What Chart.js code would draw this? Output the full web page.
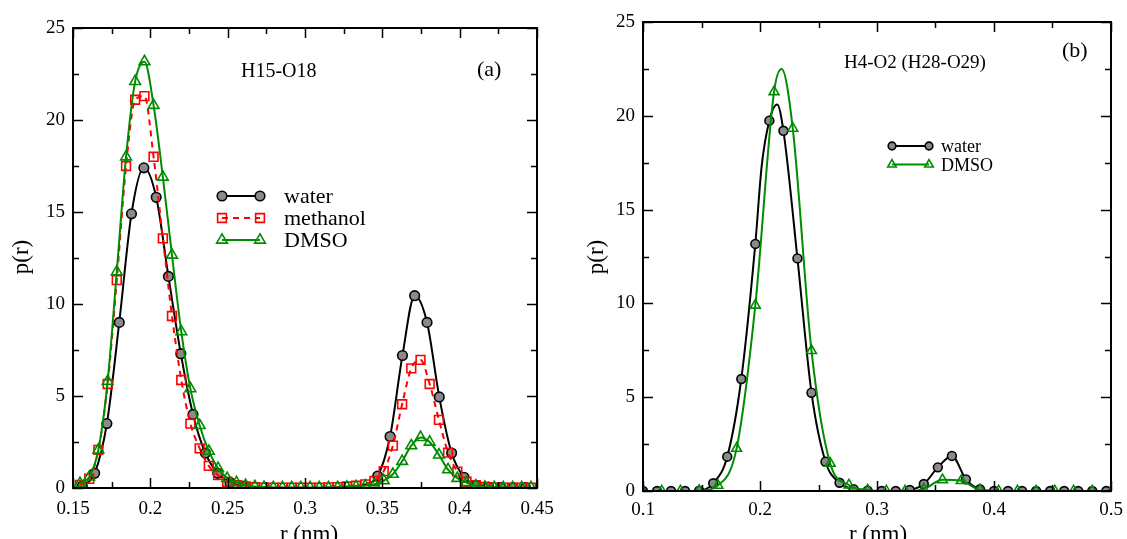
<!DOCTYPE html>
<html><head><meta charset="utf-8">
<script src="https://cdn.jsdelivr.net/npm/chart.js@4.4.0/dist/chart.umd.min.js"></script>
<style>
html,body{margin:0;padding:0;background:#fff;width:1127px;height:539px;overflow:hidden}
#ca{position:absolute;left:0;top:0}
#cb{position:absolute;left:560px;top:0}
</style></head><body>
<canvas id="ca" width="560" height="539"></canvas>
<canvas id="cb" width="567" height="539"></canvas>
<script>
// ---------- Panel (a): H15-O18 ----------
const waterA_r = [0.1560,0.1640,0.1719,0.1799,0.1878,0.1958,0.2038,0.2117,0.2197,0.2276,0.2356,0.2436,0.2515,0.2595,0.3470,0.3550,0.3630,0.3709,0.3789,0.3868,0.3948,0.4028,0.4107,0.4187,0.4266,0.4346,0.4426];
const waterA_p = [0.1,0.8,3.5,9.0,14.9,17.4,15.8,11.5,7.3,4.0,1.9,0.8,0.3,0.1,0.65,2.8,7.2,10.45,9.0,4.95,1.9,0.58,0.15,0.05,0.02,0.02,0.02];
const waterA_lineR = [0.2674,0.2754,0.2834,0.2913,0.2993,0.3072,0.3152,0.3232,0.3311,0.3391];   // line only, symbols not visible
const waterA_lineP = [0.05,0.02,0.02,0.02,0.02,0.02,0.03,0.05,0.1,0.2];
const solvA_r = [0.1545,0.1605,0.1664,0.1724,0.1783,0.1843,0.1902,0.1962,0.2021,0.2081,0.2140,0.2200,0.2259,0.2319,0.2378,0.2438,0.2497,0.2557,0.2616,0.2676,0.2735,0.2795,0.2854,0.2914,0.2973,0.3033,0.3092,0.3152,0.3211,0.3271,0.3330,0.3390,0.3449,0.3509,0.3568,0.3628,0.3687,0.3747,0.3806,0.3866,0.3925,0.3985,0.4044,0.4104,0.4163,0.4223,0.4282,0.4342,0.4401,0.4461];
const methA_p = [0.16,0.5,2.07,5.65,11.3,17.5,21.1,21.3,18.0,13.57,9.35,5.87,3.5,2.15,1.2,0.7,0.34,0.15,0.08,0.04,0.02,0.02,0.02,0.02,0.02,0.02,0.02,0.03,0.05,0.08,0.12,0.2,0.38,0.92,2.3,4.55,6.5,6.96,5.65,3.7,1.92,0.89,0.34,0.15,0.06,0.03,0.02,0.02,0.02,0.02];
const dmsoA_p = [0.25,0.6,2.07,5.8,11.75,18.0,22.1,23.17,20.8,16.9,12.66,8.5,5.4,3.4,2.0,1.07,0.53,0.3,0.15,0.08,0.04,0.02,0.02,0.02,0.02,0.02,0.02,0.02,0.03,0.05,0.08,0.12,0.2,0.4,0.75,1.45,2.3,2.75,2.5,1.8,1.0,0.53,0.3,0.12,0.05,0.03,0.02,0.02,0.02,0.02];

// ---------- Panel (b): H4-O2 (H28-O29) ----------
const waterB_r = [0.100,0.112,0.124,0.136,0.148,0.160,0.172,0.184,0.196,0.208,0.220,0.232,0.244,0.256,0.268,0.280,0.292,0.304,0.316,0.328,0.340,0.352,0.364,0.376,0.388,0.400,0.412,0.424,0.436,0.448,0.460,0.472,0.484,0.496];
const waterB_p = [0,0,0,0,0.02,0.41,1.83,5.97,13.17,19.74,19.2,12.4,5.24,1.56,0.44,0.1,0.02,0,0,0.05,0.37,1.26,1.87,0.62,0.09,0,0,0,0,0,0,0,0,0];
const waterB_lineR = [0.2014,0.2147];   // line-only points (no symbol)
const waterB_lineP = [17.3,20.6];
const dmsoB_r = [0.100,0.116,0.132,0.148,0.164,0.180,0.196,0.212,0.228,0.244,0.260,0.276,0.292,0.308,0.324,0.340,0.356,0.372,0.388,0.404,0.420,0.436,0.452,0.468,0.484,0.500];
const dmsoB_p = [0,0,0,0.02,0.3,2.27,9.9,21.28,19.33,7.48,1.47,0.32,0.05,0,0,0.1,0.6,0.55,0.05,0,0,0,0,0,0,0];
const dmsoB_lineR = [0.2185];
const dmsoB_lineP = [22.5];

// ---------- ticks ----------
const xTicksA = [0.15,0.2,0.25,0.3,0.35,0.4,0.45];
const xLabelsA = ['0.15','0.2','0.25','0.3','0.35','0.4','0.45'];
const xMinorA = [0.175,0.225,0.275,0.325,0.375,0.425];
const xTicksB = [0.1,0.2,0.3,0.4,0.5];
const xLabelsB = ['0.1','0.2','0.3','0.4','0.5'];
const xMinorB = [0.15,0.25,0.35,0.45];
const yTicks = [0,5,10,15,20,25];
const yLabels = ['0','5','10','15','20','25'];
const yMinor = [2.5,7.5,12.5,17.5,22.5];

const legendNames = ['water','methanol','DMSO'];

const GREEN = 'rgb(0,140,0)';
const RED = 'rgb(255,0,0)';
const SERIF = "'Liberation Serif','DejaVu Serif',serif";

function pts(rs, ps, er, ep) {
  const out = rs.map((r, i) => ({x: r, y: ps[i], m: true}));
  if (er) er.forEach((r, i) => out.push({x: r, y: ep[i], m: false}));
  out.sort((a, b) => a.x - b.x);
  return out;
}

const STYLES = {
  water: {pointStyle: 'circle', color: '#000', fill: '#8a8a8a', dash: [], r: 4.8},
  methanol: {pointStyle: 'rect', color: RED, fill: 'rgba(0,0,0,0)', dash: [6, 5], r: 6.2},
  DMSO: {pointStyle: 'triangle', color: GREEN, fill: 'rgba(0,0,0,0)', dash: [], r: 6.2}
};

function ds(name, data, order, rScale) {
  const s = STYLES[name];
  const R = s.r * (rScale || 1);
  return {
    label: name, data, order,
    borderColor: s.color, borderWidth: 2, borderDash: s.dash,
    cubicInterpolationMode: 'monotone',
    pointStyle: s.pointStyle,
    pointRadius: c => (c.raw && c.raw.m ? R : 0),
    pointBorderColor: s.color, pointBackgroundColor: s.fill, pointBorderWidth: 1.6,
    pointHoverRadius: 0, fill: false
  };
}

function drawMarker(ctx, style, x, y, r) {
  const s = STYLES[style];
  ctx.save();
  ctx.setLineDash([]);
  ctx.lineWidth = 1.6; ctx.strokeStyle = s.color; ctx.fillStyle = s.fill;
  ctx.beginPath();
  if (s.pointStyle === 'circle') { ctx.arc(x, y, r, 0, Math.PI * 2); }
  else if (s.pointStyle === 'rect') { const h = Math.SQRT1_2 * r; ctx.rect(x - h, y - h, 2 * h, 2 * h); }
  else { for (let k = 0; k < 3; k++) { const a = k * 2 * Math.PI / 3; const px = x + Math.sin(a) * r, py = y - Math.cos(a) * r; k ? ctx.lineTo(px, py) : ctx.moveTo(px, py); } ctx.closePath(); }
  ctx.fill(); ctx.stroke();
  ctx.restore();
}

const framePlugin = {
  id: 'frameTicks',
  afterDatasetsDraw(chart, args, o) {
    const {ctx, chartArea: a, scales: {x, y}} = chart;
    ctx.save();
    ctx.strokeStyle = '#000';
    ctx.lineWidth = 1.5;
    ctx.beginPath();
    const vt = (vals, len) => vals.forEach(v => { const p = Math.round(x.getPixelForValue(v)) + 0.5;
      ctx.moveTo(p, a.bottom); ctx.lineTo(p, a.bottom - len); ctx.moveTo(p, a.top); ctx.lineTo(p, a.top + len); });
    const ht = (vals, len) => vals.forEach(v => { const p = Math.round(y.getPixelForValue(v)) + 0.5;
      ctx.moveTo(a.left, p); ctx.lineTo(a.left + len, p); ctx.moveTo(a.right, p); ctx.lineTo(a.right - len, p); });
    vt(o.xMajor, 10); vt(o.xMinor, 6); ht(o.yMajor, 10); ht(o.yMinor, 6);
    ctx.stroke();
    ctx.lineWidth = 2;
    ctx.strokeRect(a.left, a.top, a.right - a.left, a.bottom - a.top);
    ctx.restore();
  }
};

const annotPlugin = {
  id: 'annot',
  afterDraw(chart, args, o) {
    const ctx = chart.ctx;
    ctx.save();
    ctx.fillStyle = '#000';
    (o.texts || []).forEach(t => {
      ctx.save();
      ctx.font = t.size + 'px ' + SERIF;
      ctx.textAlign = t.align || 'left';
      ctx.textBaseline = t.baseline || 'alphabetic';
      ctx.translate(t.x, t.y);
      if (t.rot) ctx.rotate(t.rot);
      ctx.fillText(t.text, 0, 0);
      ctx.restore();
    });
    const L = o.legend;
    if (L) {
      L.items.forEach((name, i) => {
        const s = STYLES[name];
        const yy = L.y + i * L.dy;
        ctx.save();
        ctx.strokeStyle = s.color; ctx.lineWidth = 2; ctx.setLineDash(s.dash);
        ctx.beginPath(); ctx.moveTo(L.x1, yy); ctx.lineTo(L.x2, yy); ctx.stroke();
        ctx.restore();
        drawMarker(ctx, name, L.x1, yy, s.r * L.rs);
        drawMarker(ctx, name, L.x2, yy, s.r * L.rs);
        ctx.font = L.size + 'px ' + SERIF;
        ctx.textAlign = 'left'; ctx.textBaseline = 'alphabetic';
        ctx.fillStyle = '#000';
        ctx.fillText(name, L.tx, yy + L.base);
      });
    }
    ctx.restore();
  }
};

function makeOptions(c) {
  return {
    responsive: false, animation: false, devicePixelRatio: 1,
    layout: {padding: {left: 0, right: c.padR, top: c.padT, bottom: 0}},
    plugins: {
      legend: {display: false}, tooltip: {enabled: false},
      frameTicks: {xMajor: c.xTicks, xMinor: c.xMinor, yMajor: yTicks, yMinor: yMinor},
      annot: {texts: c.texts, legend: c.legend}
    },
    scales: {
      x: {
        type: 'linear', min: c.xmin, max: c.xmax,
        afterBuildTicks: s => { s.ticks = c.xTicks.map(v => ({value: v})); },
        afterFit: s => { s.height = c.xAxisH; s.paddingLeft = 0; s.paddingRight = 0; },
        grid: {display: false, drawTicks: false}, border: {display: false},
        ticks: {padding: c.xPad, autoSkip: false, maxRotation: 0, color: '#000',
          font: {family: SERIF, size: 19}, callback: (v, i) => c.xLabels[i]}
      },
      y: {
        type: 'linear', min: 0, max: 25,
        afterBuildTicks: s => { s.ticks = yTicks.map(v => ({value: v})); },
        afterFit: s => { s.width = c.yAxisW; s.paddingTop = 0; s.paddingBottom = 0; },
        grid: {display: false, drawTicks: false}, border: {display: false},
        ticks: {padding: 8, autoSkip: false, color: '#000',
          font: {family: SERIF, size: 19}, callback: (v, i) => yLabels[i]}
      }
    }
  };
}

new Chart(document.getElementById('ca'), {
  type: 'line',
  data: {datasets: [
    ds('DMSO', pts(solvA_r, dmsoA_p), 1),
    ds('methanol', pts(solvA_r, methA_p), 2),
    ds('water', pts(waterA_r, waterA_p, waterA_lineR, waterA_lineP), 3)
  ]},
  options: makeOptions({
    xmin: 0.15, xmax: 0.45, xTicks: xTicksA, xLabels: xLabelsA, xMinor: xMinorA,
    padR: 23, padT: 28, xAxisH: 51, yAxisW: 73, xPad: 10,
    texts: [
      {text: 'H15-O18', x: 241, y: 77, size: 20},
      {text: '(a)', x: 477, y: 76, size: 22},
      {text: 'r (nm)', x: 309, y: 541, size: 23, align: 'center'},
      {text: 'p(r)', x: 22, y: 257, size: 23, align: 'center', baseline: 'middle', rot: -Math.PI / 2}
    ],
    legend: {items: legendNames, x1: 222, x2: 260, y: 196, dy: 22, tx: 284, base: 7, size: 22, rs: 1}
  }),
  plugins: [framePlugin, annotPlugin]
});

new Chart(document.getElementById('cb'), {
  type: 'line',
  data: {datasets: [
    ds('DMSO', pts(dmsoB_r, dmsoB_p, dmsoB_lineR, dmsoB_lineP), 1, 0.92),
    ds('water', pts(waterB_r, waterB_p, waterB_lineR, waterB_lineP), 2, 0.92)
  ]},
  options: makeOptions({
    xmin: 0.1, xmax: 0.5, xTicks: xTicksB, xLabels: xLabelsB, xMinor: xMinorB,
    padR: 16, padT: 22, xAxisH: 48, yAxisW: 83, xPad: 8,
    texts: [
      {text: 'H4-O2 (H28-O29)', x: 284, y: 68, size: 19},
      {text: '(b)', x: 502, y: 57, size: 22},
      {text: 'r (nm)', x: 318, y: 541, size: 23, align: 'center'},
      {text: 'p(r)', x: 37, y: 257, size: 23, align: 'center', baseline: 'middle', rot: -Math.PI / 2}
    ],
    legend: {items: ['water', 'DMSO'], x1: 332, x2: 369, y: 146, dy: 18.5, tx: 381, base: 6, size: 18, rs: 0.8}
  }),
  plugins: [framePlugin, annotPlugin]
});
</script>
</body></html>
